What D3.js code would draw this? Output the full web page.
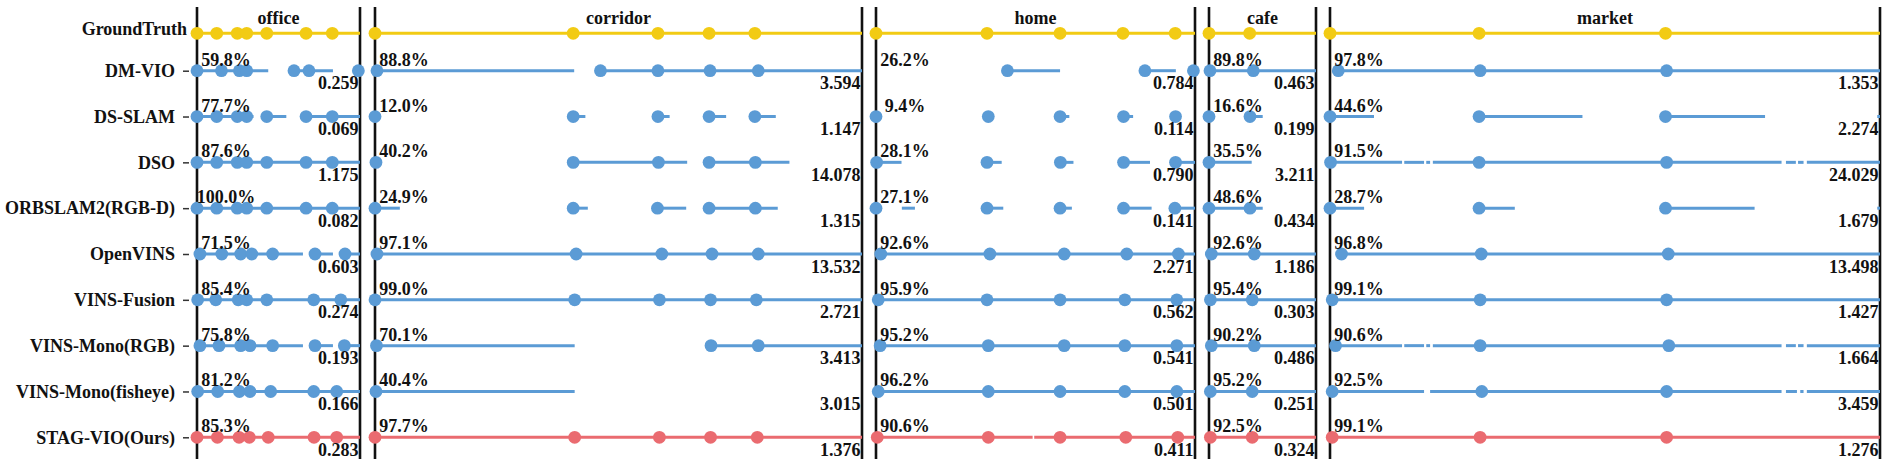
<!DOCTYPE html>
<html>
<head>
<meta charset="utf-8">
<script src="https://cdn.jsdelivr.net/npm/d3@7/dist/d3.min.js"></script>
<style>
	body { margin: 0; background: white; }
	text { font-family: "Liberation Serif", "Times New Roman", serif; font-weight: bold; fill: #111; }
</style>
</head>
<body>
<script>
// rows, top to bottom
const rows = ["GroundTruth", "DM-VIO", "DS-SLAM", "DSO", "ORBSLAM2(RGB-D)", "OpenVINS",
	"VINS-Fusion", "VINS-Mono(RGB)", "VINS-Mono(fisheye)", "STAG-VIO(Ours)"];
const sequences = ["office", "corridor", "home", "cafe", "market"];

// positions are in % of each sequence; one entry per row
const officeDots = [
	[0, 12.1, 24.7, 30.5, 42.8, 66.9, 83.0],
	[0, 15.0, 26.0, 30.5, 59.5, 68.7, 99.0],
	[0, 12.1, 24.7, 30.5, 42.8, 66.9, 83.0],
	[0, 12.1, 24.7, 30.5, 42.8, 66.9, 83.0],
	[0, 12.1, 24.7, 30.5, 42.8, 66.9, 83.0],
	[1.8, 15.2, 26.8, 33.6, 46.4, 72.4, 90.8],
	[0.4, 11.5, 25.3, 30.5, 42.8, 71.6, 88.2],
	[1.8, 13.5, 26.8, 32.5, 46.4, 72.4, 90.4],
	[0.4, 12.7, 26.0, 32.5, 45.2, 71.6, 85.7],
	[0, 12.5, 25.8, 32.1, 43.7, 71.8, 85.7]
];
const officeSegs = [
	[[0, 100]],
	[[0, 43.7], [59.5, 83.4]],
	[[0, 34.7], [42.8, 54.8], [66.9, 100]],
	[[0, 100]],
	[[0, 100]],
	[[1.8, 65], [72.4, 83.4], [90.8, 100]],
	[[0.4, 100]],
	[[1.8, 65], [72.4, 83.4], [90.4, 100]],
	[[0.4, 100]],
	[[0, 100]]
];
const officeAcc = [59.8, 77.7, 87.6, 100.0, 71.5, 85.4, 75.8, 81.2, 85.3];
const officeErr = [0.259, 0.069, 1.175, 0.082, 0.603, 0.274, 0.193, 0.166, 0.283];

const corridorDots = [
	[0, 40.7, 58.1, 68.6, 78.0],
	[0.4, 46.3, 58.1, 68.8, 78.7],
	[0, 40.7, 58.1, 68.6, 78.0],
	[0.2, 40.7, 58.2, 68.6, 78.1],
	[0, 40.7, 58.0, 68.6, 78.1],
	[0.4, 41.3, 58.9, 69.2, 78.7],
	[0, 41.0, 58.4, 68.9, 78.3],
	[0.3, 69.0, 78.7],
	[0.2],
	[0, 41.0, 58.4, 68.9, 78.5]
];
const corridorSegs = [
	[[0, 100]],
	[[0.4, 40.9], [46.3, 100]],
	[[40.7, 43.2], [58.1, 60.5], [68.6, 72.1], [78.0, 82.3]],
	[[0.2, 1.4], [40.7, 64.1], [68.6, 85.1]],
	[[0, 5.1], [40.7, 43.7], [58.0, 63.9], [68.6, 82.7]],
	[[0.4, 100]],
	[[0, 100]],
	[[0.3, 41.0], [69.0, 100]],
	[[0.2, 41.0]],
	[[0, 100]]
];
const corridorAcc = [88.8, 12.0, 40.2, 24.9, 97.1, 99.0, 70.1, 40.4, 97.7];
const corridorErr = [3.594, 1.147, 14.078, 1.315, 13.532, 2.721, 3.413, 3.015, 1.376];

const homeDots = [
	[0, 34.8, 57.7, 77.4, 93.8],
	[41.2, 84.3, 99.5],
	[0, 35.2, 57.7, 77.6, 93.9],
	[0.2, 34.8, 57.8, 77.6, 93.9],
	[0, 34.8, 57.7, 77.6, 93.7],
	[1.5, 35.7, 59.0, 78.6, 94.8],
	[0.7, 34.8, 57.7, 78.0, 94.3],
	[1.3, 35.2, 59.0, 78.0, 94.3],
	[0.7, 35.2, 57.7, 78.0, 94.3],
	[0.4, 35.2, 57.7, 78.3, 94.6]
];
const homeSegs = [
	[[0, 100]],
	[[41.2, 57.7], [84.3, 94.0]],
	[[57.7, 60.6], [77.6, 80.6]],
	[[0.2, 8.0], [34.8, 39.4], [57.8, 61.9], [77.6, 85.9], [93.9, 100]],
	[[8.1, 12.2], [34.8, 39.9], [57.7, 61.4], [77.6, 86.4], [93.7, 100]],
	[[1.5, 100]],
	[[0.7, 100]],
	[[1.3, 100]],
	[[0.7, 100]],
	[[0.4, 49.1], [49.6, 100]]
];
const homeAcc = [26.2, 9.4, 28.1, 27.1, 92.6, 95.9, 95.2, 96.2, 90.6];
const homeErr = [0.784, 0.114, 0.790, 0.141, 2.271, 0.562, 0.541, 0.501, 0.411];

const cafeDots = [
	[0, 38.0],
	[0.9, 41.4],
	[0, 38.3],
	[0],
	[0, 38.3],
	[2.2, 42.3],
	[1.3, 40.4],
	[2.2, 42.3],
	[1.3, 40.4],
	[1.3, 40.4]
];
const cafeSegs = [
	[[0, 100]],
	[[0.9, 100]],
	[[0, 5.6], [38.3, 50.2]],
	[[0, 39.9]],
	[[0, 50.2]],
	[[2.2, 100]],
	[[1.3, 100]],
	[[2.2, 100]],
	[[1.3, 100]],
	[[1.3, 100]]
];
const cafeAcc = [89.8, 16.6, 35.5, 48.6, 92.6, 95.4, 90.2, 95.2, 92.5];
const cafeErr = [0.463, 0.199, 3.211, 0.434, 1.186, 0.303, 0.486, 0.251, 0.324];

const marketDots = [
	[0, 27.1, 61.0],
	[1.5, 27.3, 61.2],
	[0, 27.1, 61.0],
	[0.1, 27.1, 61.2],
	[0, 27.1, 61.0],
	[2.1, 27.5, 61.5],
	[0.4, 27.3, 61.2],
	[1.0, 27.3, 61.6],
	[0.4, 27.6, 61.2],
	[0.4, 27.3, 61.2]
];
const marketSegs = [
	[[0, 100]],
	[[1.5, 100]],
	[[0, 8.0], [27.1, 45.9], [61.0, 79.1], [99.5, 100]],
	[[0.1, 13.1], [13.5, 17.1], [17.5, 18.2], [18.7, 82.1], [82.9, 84.7], [85.1, 86.1], [86.7, 100]],
	[[0, 6.2], [27.1, 33.6], [61.0, 77.2], [99.5, 100]],
	[[2.1, 100]],
	[[0.4, 100]],
	[[1.0, 13.1], [13.5, 17.1], [17.5, 18.2], [18.7, 82.1], [82.9, 84.7], [85.1, 86.1], [86.7, 100]],
	[[0.4, 17.1], [18.2, 82.1], [82.9, 84.9], [85.5, 86.1], [86.7, 100]],
	[[0.4, 100]]
];
const marketAcc = [97.8, 44.6, 91.5, 28.7, 96.8, 99.1, 90.6, 92.5, 99.1];
const marketErr = [1.353, 2.274, 24.029, 1.679, 13.498, 1.427, 1.664, 3.459, 1.276];

function init(){
	const width = 1890, height = 466;
	// pixel extent of each sequence panel
	const panelX = [[197, 360], [375, 862], [876, 1195], [1209, 1316], [1330, 1880]];
	const gtY = 33.3;

	const blue = "#5b9bd5", yellow = "#f2cb14", red = "#ea6b70";
	const colorOf = i => i === 0 ? yellow : (i === rows.length - 1 ? red : blue);

	const panels = [
		{dots: officeDots, segs: officeSegs, acc: officeAcc, err: officeErr},
		{dots: corridorDots, segs: corridorSegs, acc: corridorAcc, err: corridorErr},
		{dots: homeDots, segs: homeSegs, acc: homeAcc, err: homeErr},
		{dots: cafeDots, segs: cafeSegs, acc: cafeAcc, err: cafeErr},
		{dots: marketDots, segs: marketSegs, acc: marketAcc, err: marketErr}
	];

	const svg = d3.select("body").append("svg")
		.attr("width", width)
		.attr("height", height)
		.style("background-color", "white");

	const y = d3.scalePoint()
		.domain(rows.slice(1))
		.range([70.7, 437.3]);
	const rowY = i => i === 0 ? gtY : y(rows[i]);

	// row names with small ticks
	const axis = svg.append("g")
		.attr("transform", "translate(189,0)")
		.call(d3.axisLeft(y).tickSize(6).tickPadding(8));
	axis.select(".domain").remove();
	axis.selectAll(".tick line").attr("stroke", "#333").attr("stroke-width", 1.5);
	axis.selectAll(".tick text")
		.style("font-family", "'Liberation Serif', 'Times New Roman', serif")
		.style("font-weight", "bold")
		.style("font-size", "18px")
		.attr("fill", "#111");

	svg.append("text")
		.attr("x", 187)
		.attr("y", gtY + 1.5)
		.attr("text-anchor", "end")
		.style("font-size", "18px")
		.text(rows[0]);

	const scales = panels.map((p, k) => d3.scaleLinear().domain([0, 100]).range(panelX[k]));

	// panel borders
	panels.forEach((p, k) => {
		const x = scales[k];
		[0, 100].forEach(v => {
			svg.append("line")
				.attr("x1", x(v)).attr("x2", x(v))
				.attr("y1", 7).attr("y2", 459)
				.attr("stroke", "#111")
				.attr("stroke-width", 2.6);
		});
		svg.append("text")
			.attr("x", (x(0) + x(100)) / 2)
			.attr("y", 24)
			.attr("text-anchor", "middle")
			.style("font-size", "18px")
			.text(sequences[k]);
	});

	// tracked segments
	panels.forEach((p, k) => {
		const x = scales[k];
		p.segs.forEach((segs, i) => {
			svg.append("g").selectAll("line")
				.data(segs)
				.join("line")
				.attr("x1", d => x(d[0]))
				.attr("x2", d => x(d[1]))
				.attr("y1", rowY(i))
				.attr("y2", rowY(i))
				.attr("stroke", colorOf(i))
				.attr("stroke-width", 3);
		});
	});

	// keyframe dots
	panels.forEach((p, k) => {
		const x = scales[k];
		p.dots.forEach((dots, i) => {
			svg.append("g").selectAll("circle")
				.data(dots)
				.join("circle")
				.attr("cx", d => x(d))
				.attr("cy", rowY(i))
				.attr("r", 6.4)
				.attr("fill", colorOf(i));
		});
	});

	// completeness (top-left) and error (bottom-right) labels
	panels.forEach((p, k) => {
		const x = scales[k];
		svg.append("g").selectAll("text")
			.data(p.acc)
			.join("text")
			.attr("x", x(0) + 29)
			.attr("y", (d, i) => rowY(i + 1) - 5)
			.attr("text-anchor", "middle")
			.style("font-size", "18px")
			.text(d => d.toFixed(1) + "%");
		svg.append("g").selectAll("text")
			.data(p.err)
			.join("text")
			.attr("x", x(100) - 1.5)
			.attr("y", (d, i) => rowY(i + 1) + 18.5)
			.attr("text-anchor", "end")
			.style("font-size", "18px")
			.text(d => d.toFixed(3));
	});
}
init();
</script>
</body>
</html>
